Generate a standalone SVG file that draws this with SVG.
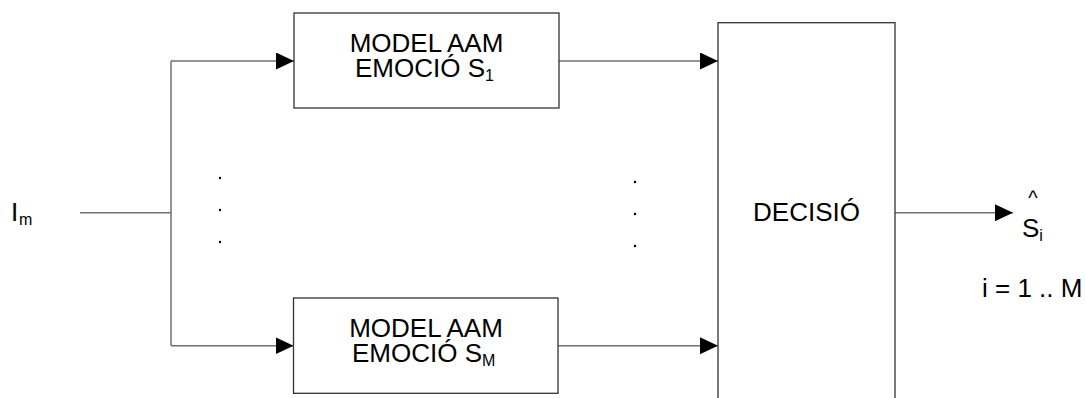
<svg xmlns="http://www.w3.org/2000/svg" width="1086" height="398" viewBox="0 0 1086 398">
  <style>
    .box { fill: #ffffff; stroke: #333333; stroke-width: 1.3; }
    .wire { fill: none; stroke: #707070; stroke-width: 1.5; }
    .lbl { font-family: "Liberation Sans", Arial, sans-serif; font-size: 26px; fill: #000000; }
    .big { font-family: "Liberation Sans", Arial, sans-serif; font-size: 26px; fill: #000000; }
    .sub { font-size: 16px; }
    .dot { fill: #000000; }
  </style>
  <defs>
    <marker id="arrow" markerUnits="userSpaceOnUse" markerWidth="18" markerHeight="17" refX="18" refY="8.5" orient="auto">
      <path d="M0,0 L18,8.5 L0,17 Z" fill="#000000"/>
    </marker>
  </defs>

  <!-- connectors -->
  <g id="connectors">
    <path class="wire" d="M80,212.7 H171"/>
    <path class="wire" d="M171,61 V345.7"/>
    <path class="wire" d="M171,61 H294" marker-end="url(#arrow)"/>
    <path class="wire" d="M171,345.7 H293.5" marker-end="url(#arrow)"/>
    <path class="wire" d="M559,61 H718" marker-end="url(#arrow)"/>
    <path class="wire" d="M558,345.7 H718" marker-end="url(#arrow)"/>
    <path class="wire" d="M895,212.7 H1013" marker-end="url(#arrow)"/>
  </g>

  <!-- input signal -->
  <g id="input">
    <text class="big" x="11" y="221">I<tspan class="sub" x="19" y="224.5">m</tspan></text>
  </g>

  <!-- first emotion model (two-line label) -->
  <g id="model-s1">
    <rect class="box" x="294" y="13" width="265" height="95"/>
    <text class="lbl"><tspan x="426.5" y="52" text-anchor="middle">MODEL AAM</tspan><tspan x="355" y="77">EMOCIÓ S</tspan><tspan class="sub" dy="4">1</tspan></text>
  </g>

  <!-- last emotion model (two-line label) -->
  <g id="model-sm">
    <rect class="box" x="293.5" y="298" width="264.5" height="95.3"/>
    <text class="lbl"><tspan x="426" y="337" text-anchor="middle">MODEL AAM</tspan><tspan x="352" y="362">EMOCIÓ S</tspan><tspan class="sub" dy="4">M</tspan></text>
  </g>

  <!-- ellipsis between models -->
  <g id="dots-left">
    <circle class="dot" cx="220" cy="178" r="1.2"/>
    <circle class="dot" cx="220" cy="210" r="1.2"/>
    <circle class="dot" cx="220" cy="242" r="1.2"/>
  </g>
  <g id="dots-right">
    <circle class="dot" cx="635" cy="182" r="1.2"/>
    <circle class="dot" cx="635" cy="214" r="1.2"/>
    <circle class="dot" cx="635" cy="246" r="1.2"/>
  </g>

  <!-- decision block -->
  <g id="decision">
    <rect class="box" x="718" y="22.7" width="177" height="390"/>
    <text class="big" x="806.5" y="221" text-anchor="middle">DECISIÓ</text>
  </g>

  <!-- output estimate -->
  <g id="output">
    <text class="lbl" x="1033" y="204.5" text-anchor="middle" style="font-size:20px">^</text>
    <text class="big" x="1022" y="237">S<tspan class="sub" dy="4">i</tspan></text>
    <text class="big" x="982" y="297">i = 1 .. M</text>
  </g>
</svg>
